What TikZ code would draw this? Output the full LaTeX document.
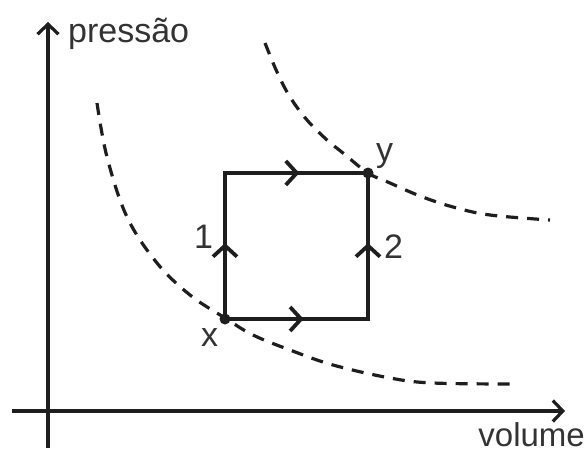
\documentclass[tikz,border=0pt]{standalone}
\usepackage{fontspec}
\setmainfont{Liberation Sans}
\usetikzlibrary{arrows.meta,calc}
\definecolor{ink}{HTML}{1E1E1E}
\definecolor{txt}{HTML}{333333}
\begin{document}
\begin{tikzpicture}[x=1pt,y=-1pt,
  axis/.style={line width=3.2pt,draw=ink},
  axtip/.style={-{Straight Barb[length=10pt,width=21pt,line width=3.2pt]}},
  cyc/.style={line width=4.6pt,draw=ink},
  midtip/.style={line width=4.6pt,draw=ink,-{Straight Barb[length=11pt,width=24pt,line width=3.8pt]}},
  iso/.style={line width=3.2pt,draw=ink,dash pattern=on 12pt off 9pt},
  lbl/.style={font=\fontsize{34}{40}\selectfont,text=txt,inner sep=0pt},
  dot/.style={circle,fill=ink,inner sep=0pt,minimum size=11pt}]
\useasboundingbox (0,0) rectangle (588,452);
% axes
\coordinate (vb) at (48,448);
\coordinate (vt) at (48,22);
\coordinate (hl) at (12,411);
\coordinate (hr) at (565,411);
\draw[axis,axtip] (vb) -- (vt);
\draw[axis,axtip] (hl) -- (hr);
\node[lbl,anchor=base west] (pl) at (68,42) {pressão};
\node[lbl,anchor=base east,font=\fontsize{33}{40}\selectfont] (vl) at (585,446) {volume};
% isotherms
\draw[iso] plot[smooth,tension=0.6] coordinates {(97,103) (107,157) (127,217) (157,263) (190,295) (225,318) (253,335) (290,350) (333,365) (390,378) (433,383) (515,384)};
\draw[iso] plot[smooth,tension=0.6] coordinates {(265,43) (277,72) (290,97) (307,120) (327,140) (343,153) (368,173) (390,183) (420,196) (453,207) (490,215) (550,220)};
% cycle
\node[dot] (x) at (225,319) {};
\node[dot] (y) at (368,173) {};
\coordinate (tl) at (225,173);
\coordinate (br) at (368,319);
\draw[cyc,line cap=rect] (x.center) -- (tl) -- (y.center) -- (br) -- cycle;
\draw[midtip] (x.center) -- ($(x.center)!0.52!(tl)$);
\draw[midtip] (tl) -- ($(tl)!0.52!(y.center)$);
\draw[midtip] (x.center) -- ($(x.center)!0.55!(br)$);
\draw[midtip] (br) -- ($(br)!0.52!(y.center)$);
\node[lbl,anchor=base west] (yl) at (376,161) {y};
\node[lbl,anchor=base west] (xl) at (201,346) {x};
\node[lbl,anchor=base west] (n1) at (194,248) {1};
\node[lbl,anchor=base west] (n2) at (384,258) {2};
\end{tikzpicture}
\end{document}
